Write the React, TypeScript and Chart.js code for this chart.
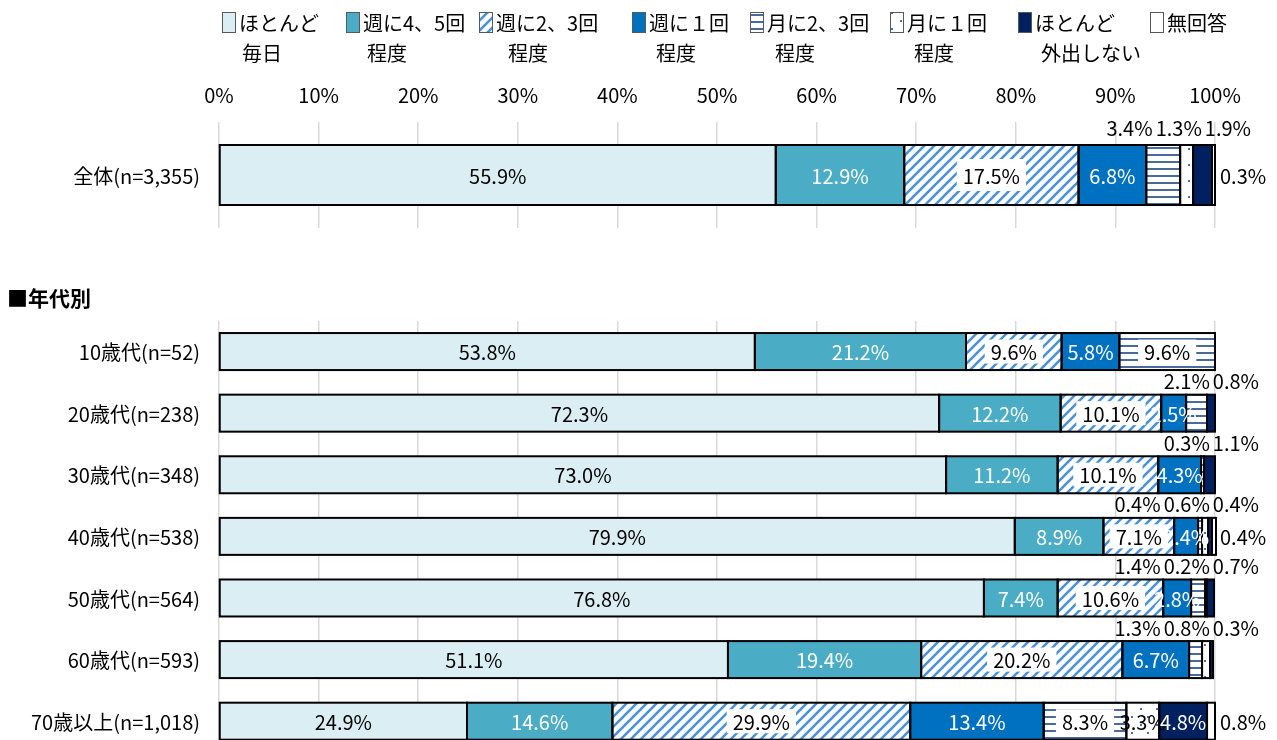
import { useEffect, useRef } from 'react';
import { Chart, registerables } from 'chart.js';

Chart.register(...registerables);

// ---------------- data ----------------
const SERIES_LINES: string[][] = [
  ['ほとんど', '毎日'],
  ['週に4、5回', '程度'],
  ['週に2、3回', '程度'],
  ['週に１回', '程度'],
  ['月に2、3回', '程度'],
  ['月に１回', '程度'],
  ['ほとんど', '外出しない'],
  ['無回答'],
];

const TOTAL_LABELS = ['全体(n=3,355)'];
// one value per series, in series order
const TOTAL_VALUES = [55.9, 12.9, 17.5, 6.8, 3.4, 1.3, 1.9, 0.3];

const AGE_LABELS = [
  '10歳代(n=52)',
  '20歳代(n=238)',
  '30歳代(n=348)',
  '40歳代(n=538)',
  '50歳代(n=564)',
  '60歳代(n=593)',
  '70歳以上(n=1,018)',
];
const AGE_DAILY = [53.8, 72.3, 73.0, 79.9, 76.8, 51.1, 24.9];
const AGE_W45 = [21.2, 12.2, 11.2, 8.9, 7.4, 19.4, 14.6];
const AGE_W23 = [9.6, 10.1, 10.1, 7.1, 10.6, 20.2, 29.9];
const AGE_W1 = [5.8, 2.5, 4.3, 2.4, 2.8, 6.7, 13.4];
const AGE_M23 = [9.6, 2.1, 0.3, 0.4, 1.4, 1.3, 8.3];
const AGE_M1 = [0, 0, 0, 0.6, 0.2, 0.8, 3.3];
const AGE_RARELY = [0, 0.8, 1.1, 0.4, 0.7, 0.3, 4.8];
const AGE_NOANSWER = [0, 0, 0, 0.4, 0, 0, 0.8];

const X_TICKS = [0, 10, 20, 30, 40, 50, 60, 70, 80, 90, 100];
const SECTION_TITLE = '■年代別';

// ---------------- styles ----------------
const FONT_FAMILY = '"Noto Sans CJK JP", "Noto Sans", sans-serif';
const FONT = `20px ${FONT_FAMILY}`;
const TEXT_COLOR = '#000000';
const LIGHT_TEXT = [false, true, false, true, false, false, true, false];
const BOXED = [false, false, true, false, true, false, false, false];
const LEGEND_X = [222, 346, 479, 632, 750, 890, 1018, 1150];
const LEGEND_L2_OFF = [3, 4, 12, 7, 8, 7, 6, 0];

function makePatterns() {
  const mk = (w: number, h: number, draw: (c: CanvasRenderingContext2D) => void) => {
    const cv = document.createElement('canvas');
    cv.width = w;
    cv.height = h;
    const c = cv.getContext('2d')!;
    c.fillStyle = '#ffffff';
    c.fillRect(0, 0, w, h);
    draw(c);
    return c.createPattern(cv, 'repeat') as CanvasPattern;
  };
  const diag = mk(10, 10, (c) => {
    c.strokeStyle = '#4a92d8';
    c.lineWidth = 2.6;
    c.beginPath();
    c.moveTo(-5, 5); c.lineTo(5, -5);
    c.moveTo(0, 10); c.lineTo(10, 0);
    c.moveTo(5, 15); c.lineTo(15, 5);
    c.stroke();
  });
  const horiz = mk(8, 7, (c) => {
    c.fillStyle = '#4a6a9c';
    c.fillRect(0, 0, 8, 2);
  });
  const dots = mk(16, 16, (c) => {
    c.fillStyle = '#3f6fb5';
    c.fillRect(4, 4, 2, 2);
    c.fillRect(11, 12, 2, 2);
  });
  return ['#daeef3', '#4bacc6', diag, '#0070c0', horiz, dots, '#002060', '#ffffff'];
}

function segPlugin(cfg: { threshold: number; aboveGap: number; aboveRight: number; boxH: number }) {
  return {
    id: 'segLabels',
    afterDatasetsDraw(chart: any) {
      const ctx: CanvasRenderingContext2D = chart.ctx;
      const xEnd = chart.scales.x.getPixelForValue(100);
      const n = chart.data.labels.length;
      ctx.save();
      ctx.strokeStyle = '#000';
      ctx.lineWidth = 2;
      chart.data.datasets.forEach((ds: any, di: number) => {
        const meta = chart.getDatasetMeta(di);
        meta.data.forEach((el: any, i: number) => {
          if (!ds.data[i]) return;
          const p = el.getProps(['x', 'y', 'base', 'height'], true);
          ctx.strokeRect(p.base, p.y - p.height / 2, p.x - p.base, p.height);
        });
      });
      ctx.font = FONT;
      ctx.textBaseline = 'middle';
      for (let i = 0; i < n; i++) {
        const above: string[] = [];
        let top = 0;
        chart.data.datasets.forEach((ds: any, di: number) => {
          const v = ds.data[i];
          if (!v) return;
          const el = chart.getDatasetMeta(di).data[i];
          const p = el.getProps(['x', 'y', 'base', 'height'], true);
          top = p.y - p.height / 2;
          const txt = v.toFixed(1) + '%';
          if (v >= cfg.threshold) {
            const cx = (p.base + p.x) / 2;
            if (BOXED[di]) {
              const w = ctx.measureText(txt).width + 12;
              ctx.fillStyle = '#ffffff';
              ctx.fillRect(cx - w / 2, p.y - cfg.boxH / 2, w, cfg.boxH);
            }
            ctx.fillStyle = LIGHT_TEXT[di] ? '#ffffff' : TEXT_COLOR;
            ctx.textAlign = 'center';
            ctx.fillText(txt, cx, p.y + 1);
          } else if (di === chart.data.datasets.length - 1) {
            ctx.fillStyle = TEXT_COLOR;
            ctx.textAlign = 'left';
            ctx.fillText(txt, xEnd + 5, p.y + 1);
          } else {
            above.push(txt);
          }
        });
        let r = xEnd + cfg.aboveRight;
        ctx.fillStyle = TEXT_COLOR;
        ctx.textAlign = 'right';
        for (let k = above.length - 1; k >= 0; k--) {
          ctx.fillText(above[k], r, top - cfg.aboveGap);
          r -= ctx.measureText(above[k]).width + 3;
        }
      }
      ctx.restore();
    },
    afterDraw(chart: any) {
      // category labels, right-aligned left of the plot area
      const ctx: CanvasRenderingContext2D = chart.ctx;
      const ys = chart.scales.y;
      ctx.save();
      ctx.font = FONT;
      ctx.fillStyle = TEXT_COLOR;
      ctx.textAlign = 'right';
      ctx.textBaseline = 'middle';
      chart.data.labels.forEach((lab: string, i: number) => {
        ctx.fillText(lab, chart.chartArea.left - 19, ys.getPixelForValue(i) + 1);
      });
      ctx.restore();
    },
  };
}

const legendPlugin = (fills: any[]) => ({
  id: 'customLegend',
  afterDraw(chart: any) {
    const ctx: CanvasRenderingContext2D = chart.ctx;
    ctx.save();
    ctx.font = FONT;
    ctx.textBaseline = 'middle';
    ctx.textAlign = 'left';
    LEGEND_X.forEach((x, k) => {
      ctx.fillStyle = fills[k];
      ctx.fillRect(x, 12, 14, 21);
      ctx.strokeStyle = '#595959';
      ctx.lineWidth = 1;
      ctx.strokeRect(x + 0.5, 12.5, 13, 20);
      ctx.fillStyle = TEXT_COLOR;
      const lines = SERIES_LINES[k];
      ctx.fillText(lines[0], x + 17, 23);
      if (lines[1]) ctx.fillText(lines[1], x + 17 + LEGEND_L2_OFF[k], 53);
    });
    ctx.restore();
  },
});

const titlePlugin = {
  id: 'sectionTitle',
  afterDraw(chart: any) {
    const ctx: CanvasRenderingContext2D = chart.ctx;
    ctx.save();
    ctx.font = `bold 21px ${FONT_FAMILY}`;
    ctx.fillStyle = TEXT_COLOR;
    ctx.textBaseline = 'middle';
    ctx.textAlign = 'left';
    ctx.fillText(SECTION_TITLE, 7, 58);
    ctx.restore();
  },
};

function buildOptions(showTicks: boolean, xHeight: number, padTop: number, padBottom: number, barThickness: number) {
  return {
    indexAxis: 'y' as const,
    responsive: false,
    animation: false as const,
    layout: { padding: { top: padTop, bottom: padBottom, left: 0, right: 62 } },
    datasets: { bar: { barThickness, borderWidth: 0 } },
    plugins: { legend: { display: false }, tooltip: { enabled: false } },
    scales: {
      x: {
        position: 'top' as const,
        stacked: true,
        min: 0,
        max: 100,
        afterBuildTicks: (s: any) => { s.ticks = X_TICKS.map((v) => ({ value: v })); },
        afterFit: (s: any) => { s.height = xHeight; },
        border: { display: false },
        grid: { color: '#d9d9d9', lineWidth: 1.5, drawTicks: false },
        ticks: {
          display: showTicks,
          padding: 15,
          color: TEXT_COLOR,
          font: { size: 20, family: FONT_FAMILY },
          maxRotation: 0,
          callback: (v: any) => v + '%',
        },
      },
      y: {
        stacked: true,
        afterFit: (s: any) => { s.width = 219; },
        border: { display: false },
        grid: { display: false, drawTicks: false },
        ticks: { display: false },
      },
    },
  };
}

export default function App() {
  const topRef = useRef<HTMLCanvasElement>(null);
  const botRef = useRef<HTMLCanvasElement>(null);

  useEffect(() => {
    document.body.style.margin = '0';
    const fills = makePatterns();
    const names = SERIES_LINES.map((l) => l.join(''));
    const ageSeries = [AGE_DAILY, AGE_W45, AGE_W23, AGE_W1, AGE_M23, AGE_M1, AGE_RARELY, AGE_NOANSWER];

    const top = new Chart(topRef.current!, {
      type: 'bar',
      data: {
        labels: TOTAL_LABELS,
        datasets: names.map((name, k) => ({
          label: name,
          data: [TOTAL_VALUES[k]],
          backgroundColor: fills[k],
        })),
      },
      options: buildOptions(true, 122, 0, 7, 60) as any,
      plugins: [segPlugin({ threshold: 5, aboveGap: 17, aboveRight: 36, boxH: 32 }), legendPlugin(fills)],
    });

    const bottom = new Chart(botRef.current!, {
      type: 'bar',
      data: {
        labels: AGE_LABELS,
        datasets: names.map((name, k) => ({
          label: name,
          data: ageSeries[k],
          backgroundColor: fills[k],
        })),
      },
      options: buildOptions(false, 0, 80.75, 0, 37) as any,
      plugins: [segPlugin({ threshold: 2.2, aboveGap: 13, aboveRight: 44, boxH: 24 }), titlePlugin],
    });

    return () => {
      top.destroy();
      bottom.destroy();
    };
  }, []);

  return (
    <div style={{ position: 'relative', width: 1277, height: 740, overflow: 'hidden', background: '#fff' }}>
      <canvas ref={topRef} width={1277} height={235} style={{ position: 'absolute', left: 0, top: 0, display: 'block' }} />
      <canvas ref={botRef} width={1277} height={512} style={{ position: 'absolute', left: 0, top: 240, display: 'block' }} />
    </div>
  );
}
